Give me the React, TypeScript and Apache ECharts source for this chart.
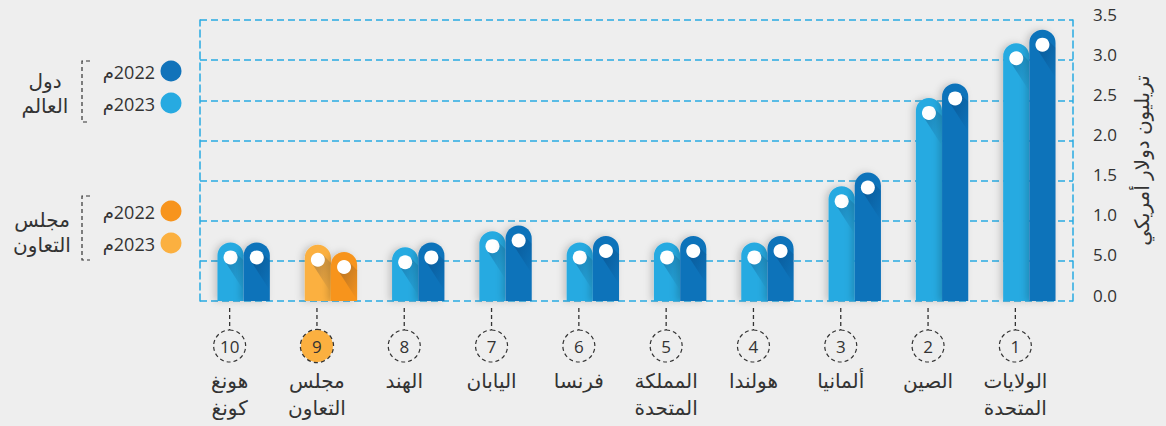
import React, { useEffect, useRef } from "react";
import * as echarts from "echarts";

const countries = [
  "الولايات\nالمتحدة",
  "الصين",
  "ألمانيا",
  "هولندا",
  "المملكة\nالمتحدة",
  "فرنسا",
  "اليابان",
  "الهند",
  "مجلس\nالتعاون",
  "هونغ\nكونغ",
];
const ranks = ["1", "2", "3", "4", "5", "6", "7", "8", "9", "10"];
const values2023 = [3.21, 2.53, 1.43, 0.73, 0.73, 0.73, 0.87, 0.67, 0.7, 0.73];
const values2022 = [3.38, 2.71, 1.6, 0.81, 0.81, 0.81, 0.94, 0.73, 0.61, 0.73];
const yTickLabels = ["0.0", "5.0", "1.0", "1.5", "2.0", "2.5", "3.0", "3.5"];
const yAxisName = "تريليون دولار أمريكي";
const highlightIndex = 8;
const legendWorld = "دول\nالعالم";
const legendGcc = "مجلس\nالتعاون";
const legend2022 = "\u200F2022م";
const legend2023 = "\u200F2023م";

const FONT = "'Open Sans', 'DejaVu Sans', sans-serif";
const BLUE_LIGHT = "#27aae1";
const BLUE_DARK = "#1173ba";
const ORANGE_LIGHT = "#fbb040";
const ORANGE_DARK = "#f7941d";
const GRID_BLUE = "#29abe2";
const TEXT = "#333333";

function makeRender(kind: number) {
  return (params: any, api: any) => {
    const idx = api.value(0);
    const v = api.value(1);
    const base = api.coord([idx, 0]);
    const topPt = api.coord([idx, v]);
    const band = api.size([1, 0])[0];
    const bw = band * 0.3;
    const cx = base[0] + (kind === 0 ? -bw / 2 : bw / 2);
    const top = topPt[1];
    const bottom = base[1];
    const gcc = idx === highlightIndex;
    const color =
      kind === 0 ? (gcc ? ORANGE_LIGHT : BLUE_LIGHT) : gcc ? ORANGE_DARK : BLUE_DARK;
    const r = bw / 2;
    const dy = top + 15;
    const dr = 7;
    const k = dr / Math.SQRT2;
    const xr = cx + bw / 2;
    const ax = cx + k;
    const ay = dy - k;
    const bx = cx - k;
    const by = dy + k;
    const children: any[] = [
      {
        type: "rect",
        shape: { x: cx - bw / 2, y: top, width: bw, height: bottom - top, r: [r, r, 0, 0] },
        style: {
          fill: color,
          shadowBlur: 7,
          shadowColor: "rgba(0,0,0,0.18)",
          shadowOffsetX: -3,
          shadowOffsetY: 0,
        },
      },
      {
        type: "polygon",
        shape: {
          points: [
            [ax, ay],
            [xr, ay + (xr - ax)],
            [xr, by + (xr - bx) + 10],
            [bx, by],
          ],
        },
        style: {
          fill: {
            type: "linear",
            x: 0,
            y: 0,
            x2: 1,
            y2: 1,
            colorStops: [
              { offset: 0, color: "rgba(0,20,60,0.28)" },
              { offset: 1, color: "rgba(0,20,60,0)" },
            ],
          },
        },
      },
      {
        type: "circle",
        shape: { cx: cx, cy: dy, r: dr },
        style: { fill: "#ffffff" },
      },
    ];
    if (kind === 0) {
      const tx = base[0] - 14;
      children.push({
        type: "line",
        shape: { x1: tx, y1: bottom + 7, x2: tx, y2: bottom + 29 },
        style: { stroke: TEXT, lineWidth: 1.3, lineDash: [4, 3] },
      });
    }
    return { type: "group", children };
  };
}

const dashed = { color: GRID_BLUE, type: [7, 4] as any, width: 1.5 };

export default function App() {
  const ref = useRef<HTMLDivElement>(null);
  useEffect(() => {
    if (!ref.current) return;
    const chart = echarts.init(ref.current, null, { renderer: "svg" });
    const option: any = {
      animation: false,
      backgroundColor: "#eeeeee",
      textStyle: { fontFamily: FONT },
      grid: { left: 200, right: 93, top: 20, bottom: 125, containLabel: false, outerBoundsMode: "none" },
      xAxis: {
        type: "category",
        data: countries,
        inverse: true,
        axisLine: { show: false },
        axisTick: { show: false },
        splitLine: { show: false },
        axisLabel: {
          interval: 0,
          margin: 29,
          padding: [0, 28, 0, 0],
          align: "center",
          formatter: (val: string, i: number) =>
            `{${i === highlightIndex ? "ch" : "c"}|${ranks[i]}}\n{s| }\n{n|${val}}`,
          rich: {
            c: {
              width: 32,
              height: 32,
              borderRadius: 17,
              borderColor: TEXT,
              borderWidth: 1.2,
              borderType: [4, 3],
              align: "center",
              fontSize: 17,
              color: TEXT,
              fontFamily: FONT,
            },
            ch: {
              width: 32,
              height: 32,
              borderRadius: 17,
              borderColor: TEXT,
              borderWidth: 1.2,
              borderType: [4, 3],
              backgroundColor: ORANGE_LIGHT,
              align: "center",
              fontSize: 17,
              color: TEXT,
              fontFamily: FONT,
            },
            s: { fontSize: 2, lineHeight: 5 },
            n: { fontSize: 20, lineHeight: 27, color: TEXT, align: "center", fontFamily: FONT },
          },
        },
      },
      yAxis: [
        {
          type: "value",
          position: "right",
          min: 0,
          max: 3.5,
          interval: 0.5,
          axisLine: { show: true, lineStyle: dashed },
          axisTick: { show: false },
          splitLine: { show: true, lineStyle: dashed },
          axisLabel: {
            margin: 20,
            color: TEXT,
            fontSize: 17,
            verticalAlign: "bottom",
            lineHeight: 12,
            formatter: (v: number) => yTickLabels[Math.round(v / 0.5)],
          },
          name: yAxisName,
          nameLocation: "middle",
          nameGap: 58,
          nameRotate: 90,
          nameTextStyle: { fontSize: 20, color: TEXT, fontFamily: FONT },
        },
        {
          type: "value",
          position: "left",
          min: 0,
          max: 3.5,
          interval: 0.5,
          axisLine: { show: true, lineStyle: dashed },
          axisTick: { show: false },
          axisLabel: { show: false },
          splitLine: { show: false },
        },
      ],
      series: [
        {
          type: "custom",
          name: "2023",
          clip: false,
          renderItem: makeRender(0),
          encode: { x: 0, y: 1 },
          data: values2023.map((v, i) => [i, v]),
        },
        {
          type: "custom",
          name: "2022",
          clip: false,
          renderItem: makeRender(1),
          encode: { x: 0, y: 1 },
          data: values2022.map((v, i) => [i, v]),
        },
      ],
      graphic: [
        { type: "circle", shape: { cx: 171, cy: 71, r: 10.5 }, style: { fill: BLUE_DARK } },
        { type: "circle", shape: { cx: 171, cy: 103, r: 10.5 }, style: { fill: BLUE_LIGHT } },
        {
          type: "text",
          style: { text: legend2022, x: 155, y: 72, align: "right", verticalAlign: "middle", fontSize: 18, fill: TEXT, fontFamily: FONT },
        },
        {
          type: "text",
          style: { text: legend2023, x: 155, y: 104, align: "right", verticalAlign: "middle", fontSize: 18, fill: TEXT, fontFamily: FONT },
        },
        {
          type: "polyline",
          shape: { points: [[90, 61], [82, 61], [82, 122], [90, 122]] },
          style: { stroke: TEXT, lineWidth: 1.2, lineDash: [4, 3], fill: null },
        },
        {
          type: "text",
          style: { text: legendWorld, x: 45, y: 93, align: "center", verticalAlign: "middle", fontSize: 20, lineHeight: 25, fill: TEXT, fontFamily: FONT },
        },
        { type: "circle", shape: { cx: 171, cy: 211, r: 10.5 }, style: { fill: ORANGE_DARK } },
        { type: "circle", shape: { cx: 171, cy: 243, r: 10.5 }, style: { fill: ORANGE_LIGHT } },
        {
          type: "text",
          style: { text: legend2022, x: 155, y: 212, align: "right", verticalAlign: "middle", fontSize: 18, fill: TEXT, fontFamily: FONT },
        },
        {
          type: "text",
          style: { text: legend2023, x: 155, y: 244, align: "right", verticalAlign: "middle", fontSize: 18, fill: TEXT, fontFamily: FONT },
        },
        {
          type: "polyline",
          shape: { points: [[90, 196], [82, 196], [82, 260], [90, 260]] },
          style: { stroke: TEXT, lineWidth: 1.2, lineDash: [4, 3], fill: null },
        },
        {
          type: "text",
          style: { text: legendGcc, x: 42, y: 232, align: "center", verticalAlign: "middle", fontSize: 20, lineHeight: 25, fill: TEXT, fontFamily: FONT },
        },
      ],
    };
    chart.setOption(option);
    return () => chart.dispose();
  }, []);
  return (
    <div
      ref={ref}
      style={{ position: "fixed", left: 0, top: 0, width: 1166, height: 426 }}
    />
  );
}
